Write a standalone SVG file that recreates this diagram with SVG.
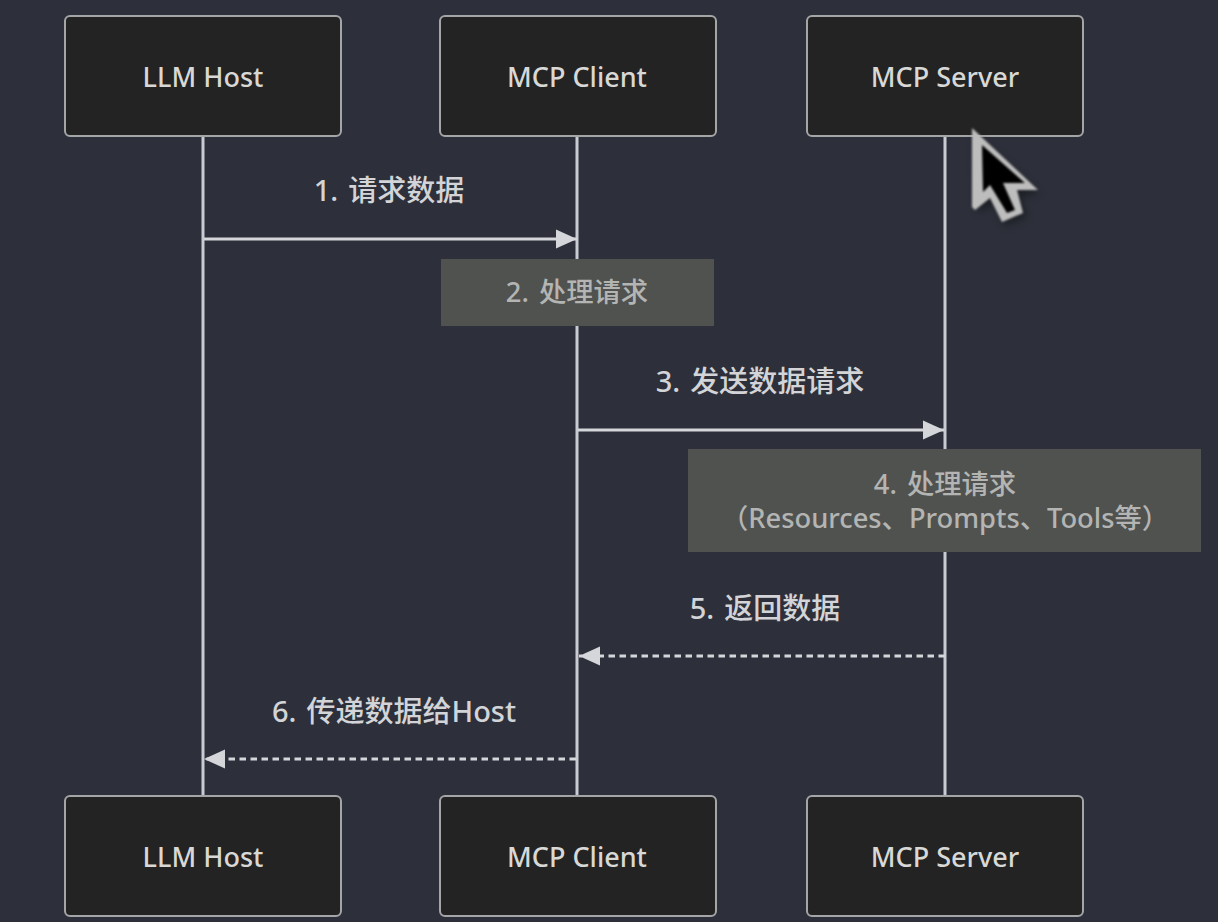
<svg xmlns="http://www.w3.org/2000/svg" width="1218" height="922" viewBox="0 0 1218 922">
<style>
.actor{fill:#222322;stroke:#a4a5a7;stroke-width:2}
.atext{font:500 27px "Noto Sans","Noto Sans CJK SC",sans-serif;fill:#d8d8d6;text-anchor:middle}
.life{stroke:#c9cbd2;stroke-width:3;fill:none}
.msg{stroke:#d4d6da;stroke-width:2.8;fill:none}
.dash{stroke-dasharray:6.5 4.5}
.mtext{font:500 29px "Noto Sans","Noto Sans CJK SC",sans-serif;fill:#d3d4d7;text-anchor:middle;word-spacing:2.5px}
.note{fill:#505250}
.ntext{font:500 27.3px "Noto Sans","Noto Sans CJK SC",sans-serif;fill:#b4b5b3;text-anchor:middle}
</style>
<defs>
<marker id="arr" markerUnits="userSpaceOnUse" markerWidth="22" markerHeight="22" refX="21" refY="11" orient="auto"><path d="M0 1.5L21 11L0 20.5Z" fill="#d4d6da"/></marker>
<filter id="soft" x="-30%" y="-30%" width="160%" height="160%"><feGaussianBlur stdDeviation="0.8"/></filter>
<filter id="shadow" x="-40%" y="-40%" width="180%" height="180%"><feGaussianBlur stdDeviation="4"/></filter>
</defs>
<rect width="1218" height="922" fill="#2d303a"/>
<g id="connectors">
<path class="life" d="M203 136V796M577 136V796M945 136V796"/>
<path class="msg" d="M204 239H577" marker-end="url(#arr)"/>
<path class="msg" d="M578 430H944" marker-end="url(#arr)"/>
<path class="msg dash" d="M945 656H579" marker-end="url(#arr)"/>
<path class="msg dash" d="M576 759H204" marker-end="url(#arr)"/>
</g>
<g id="host-top"><rect class="actor" x="65" y="16" width="276" height="120" rx="5"/><text class="atext" x="203" y="87">LLM Host</text></g>
<g id="client-top"><rect class="actor" x="440" y="16" width="276" height="120" rx="5"/><text class="atext" x="577" y="87">MCP Client</text></g>
<g id="server-top"><rect class="actor" x="807" y="16" width="276" height="120" rx="5"/><text class="atext" x="945" y="87">MCP Server</text></g>
<g id="host-bottom"><rect class="actor" x="65" y="796" width="276" height="120" rx="5"/><text class="atext" x="203" y="867">LLM Host</text></g>
<g id="client-bottom"><rect class="actor" x="440" y="796" width="276" height="120" rx="5"/><text class="atext" x="577" y="867">MCP Client</text></g>
<g id="server-bottom"><rect class="actor" x="807" y="796" width="276" height="120" rx="5"/><text class="atext" x="945" y="867">MCP Server</text></g>
<g id="note-2"><rect class="note" x="441" y="259" width="273" height="67"/><text class="ntext" x="577" y="302" style="word-spacing:3px">2. 处理请求</text></g>
<g id="note-4"><rect class="note" x="688" y="449" width="513" height="103"/><text class="ntext" x="945" y="494" style="word-spacing:3px">4. 处理请求</text><text class="ntext" x="945" y="528">（Resources、Prompts、Tools等）</text></g>
<g id="labels">
<text class="mtext" x="389" y="201">1. 请求数据</text>
<text class="mtext" x="760" y="392">3. 发送数据请求</text>
<text class="mtext" x="765" y="619">5. 返回数据</text>
<text class="mtext" x="394" y="722">6. 传递数据给Host</text>
</g>
<g id="cursor">
<path d="M975 134L978 214L993 204L1005 226L1027 217L1020 196L1040 194Z" fill="#000" opacity="0.35" filter="url(#shadow)"/>
<path d="M972 128L1038 190L1017 190L1023 213L1002 222L990 198L975 210L972 207Z" fill="#bdbdbd" filter="url(#soft)"/>
<path d="M982 145L1025 183L1003 183L1015 210L1007 213L990 185L983 192Z" fill="#000" filter="url(#soft)"/>
</g>
</svg>
